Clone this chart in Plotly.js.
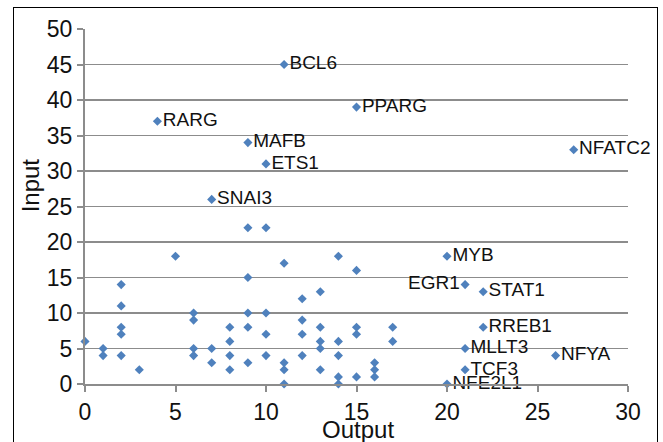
<!DOCTYPE html>
<html>
<head>
<meta charset="utf-8">
<script src="https://cdn.plot.ly/plotly-3.0.1.min.js"></script>
<style>
html,body{margin:0;padding:0;background:#fff;}
#wrap{position:relative;width:663px;height:442px;overflow:hidden;}
#chart{width:663px;height:442px;}
#frame{position:absolute;left:13px;top:7px;width:643px;height:460px;border:1.5px solid #000;pointer-events:none;}
</style>
</head>
<body>
<div id="wrap"><div id="chart"></div><div id="frame"></div></div>
<script>
// Labelled transcription factors
var labelNames  = ["BCL6","PPARG","RARG","MAFB","ETS1","NFATC2","SNAI3","MYB","EGR1","STAT1","RREB1","MLLT3","NFYA","TCF3","NFE2L1"];
var labelOutput = [11, 15, 4, 9, 10, 27, 7, 20, 21, 22, 22, 21, 26, 21, 20];
var labelInput  = [45, 39, 37, 34, 31, 33, 26, 18, 14, 13, 8, 5, 4, 2, 0];

// Unlabelled points
var otherOutput = [0, 1,1, 2,2,2,2,2, 3, 5, 9,10, 6,6,6,6, 7,7, 8,8,8,8, 9,9,9,9, 10,10,10,
                   11,11,11,11, 12,12,12,12, 13,13,13,13,13, 14,14,14,14,14, 15,15,15,15, 16,16,16, 17,17];
var otherInput  = [6, 5,4, 14,11,8,7,4, 2, 18, 22,22, 10,9,5,4, 5,3, 8,6,4,2, 15,10,8,3, 10,7,4,
                   17,3,2,0, 12,9,7,4, 13,8,6,5,2, 18,6,4,1,0, 16,8,7,1, 3,2,1, 8,6];

var xTicks = [0, 5, 10, 15, 20, 25, 30];
var yTicks = [0, 5, 10, 15, 20, 25, 30, 35, 40, 45, 50];

var positions = labelNames.map(function(n){ return n === "EGR1" ? "middle left" : "middle right"; });
var mColor = "#4f81bd";
var fontFam = "Liberation Sans, Arial, Helvetica, sans-serif";

var traces = [
  {
    x: otherOutput, y: otherInput, mode: "markers", type: "scatter",
    marker: {symbol: "diamond", size: 7, color: mColor},
    cliponaxis: false, hoverinfo: "x+y"
  },
  {
    x: labelOutput, y: labelInput, text: labelNames, mode: "markers+text", type: "scatter",
    textposition: positions,
    textfont: {family: fontFam, size: 19, color: "#111"},
    marker: {symbol: "diamond", size: 7, color: mColor},
    cliponaxis: false, hoverinfo: "text+x+y"
  }
];

var layout = {
  width: 663, height: 442,
  margin: {l: 85, r: 35, t: 29, b: 58},
  paper_bgcolor: "#fff", plot_bgcolor: "#fff",
  showlegend: false,
  font: {family: fontFam, color: "#111"},
  xaxis: {
    range: [0, 30], tickvals: xTicks, ticktext: xTicks.map(String),
    showgrid: false, zeroline: false,
    showline: true, linecolor: "#8c8c8c", linewidth: 2,
    ticks: "outside", ticklen: 6, tickwidth: 2, tickcolor: "#8c8c8c",
    tickfont: {family: fontFam, size: 23, color: "#111"}
  },
  yaxis: {
    range: [0, 50], tickvals: yTicks, ticktext: yTicks.map(String),
    showgrid: true, gridcolor: "#8c8c8c", gridwidth: 1.4,
    zeroline: false,
    showline: true, linecolor: "#8c8c8c", linewidth: 2,
    ticks: "outside", ticklen: 6, tickwidth: 2, tickcolor: "#8c8c8c",
    tickfont: {family: fontFam, size: 23, color: "#111"}
  },
  annotations: [
    {
      text: "Input", xref: "paper", yref: "paper", x: -0.101, y: 0.56,
      xanchor: "center", yanchor: "middle", textangle: -90, showarrow: false,
      font: {family: fontFam, size: 24, color: "#111"}
    },
    {
      text: "Output", xref: "paper", yref: "paper", x: 0.503, y: -0.127,
      xanchor: "center", yanchor: "middle", showarrow: false,
      font: {family: fontFam, size: 24, color: "#111"}
    }
  ]
};

Plotly.newPlot("chart", traces, layout, {staticPlot: true, displayModeBar: false});
</script>
</body>
</html>
